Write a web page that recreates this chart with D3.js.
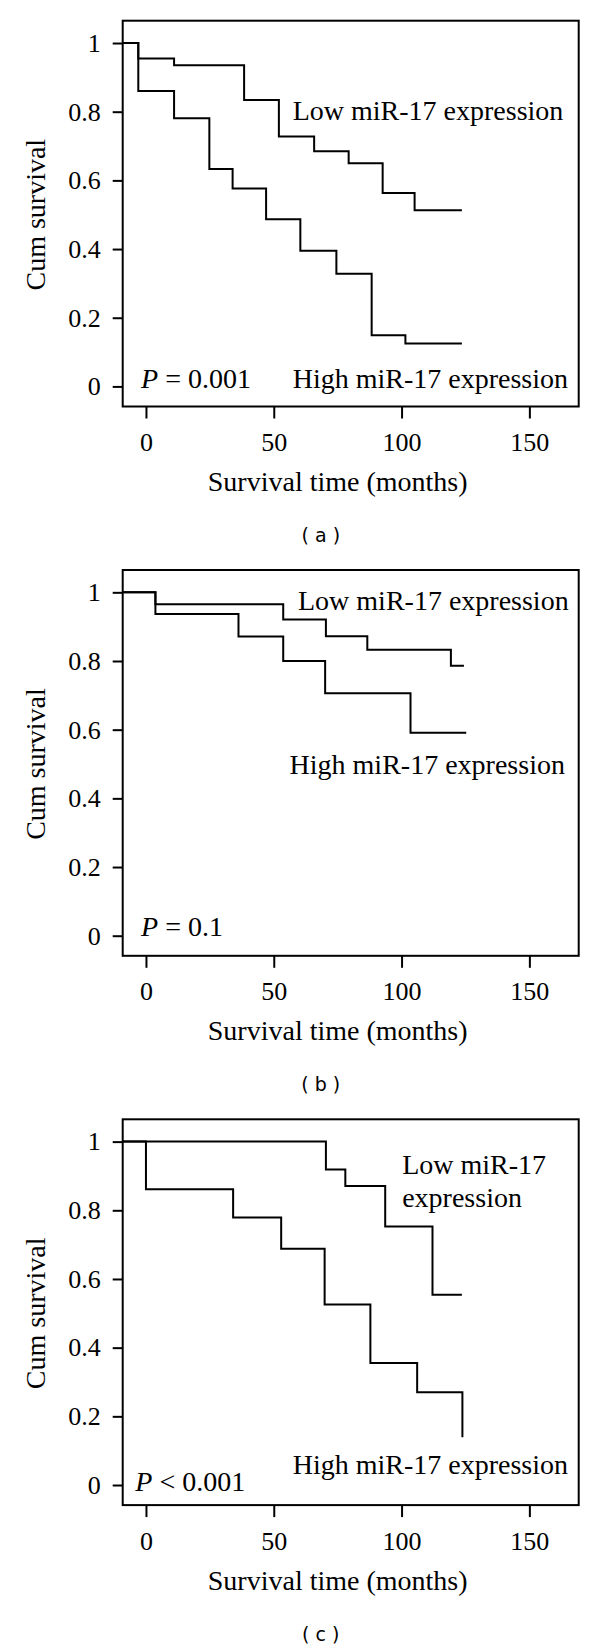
<!DOCTYPE html>
<html>
<head>
<meta charset="utf-8">
<script src="https://cdn.jsdelivr.net/npm/d3@7/dist/d3.min.js"></script>
<style>
  html, body { margin: 0; padding: 0; background: #fff; }
  svg { display: block; }
</style>
</head>
<body>
<svg id="chart" width="600" height="1647"></svg>
<script>
// ---------- data ----------
const xTicks = [0, 50, 100, 150];
const yTicks = [0, 0.2, 0.4, 0.6, 0.8, 1];
const yTickLabels = ["0", "0.2", "0.4", "0.6", "0.8", "1"];
const panelLabels = ["( a )", "( b )", "( c )"];
const pSymbols = ["=", "=", "<"];
const pValues = ["0.001", "0.1", "0.001"];
const xTitle = "Survival time (months)";
const yTitle = "Cum survival";

// panel (a)
const aLowTime  = [-3, 11.0, 38.4, 52.0, 65.8, 79.3, 92.6, 105.1];
const aLowSurv  = [0.955, 0.935, 0.834, 0.728, 0.685, 0.650, 0.563, 0.513];
const aLowEnd   = 123.6;
const aHighTime = [-3, 11.0, 24.8, 33.9, 47.0, 60.4, 74.5, 88.3, 101.5];
const aHighSurv = [0.860, 0.781, 0.633, 0.576, 0.487, 0.395, 0.328, 0.149, 0.125];
const aHighEnd  = 123.6;
// panel (b)
const bLowTime  = [3.7, 53.7, 70.4, 86.6, 119.3];
const bLowSurv  = [0.965, 0.921, 0.872, 0.833, 0.786];
const bLowEnd   = 124.4;
const bHighTime = [3.7, 36.2, 53.7, 70.1, 103.5];
const bHighSurv = [0.937, 0.871, 0.800, 0.706, 0.591];
const bHighEnd  = 125.3;
// panel (c)
const cLowTime  = [70.4, 78.0, 93.6, 112.1];
const cLowSurv  = [0.919, 0.871, 0.753, 0.554];
const cLowEnd   = 123.6;
const cHighTime = [0, 34.1, 52.9, 69.9, 87.8, 106.1, 123.8];
const cHighSurv = [0.861, 0.779, 0.688, 0.526, 0.355, 0.270, 0.139];
const cHighEnd  = 123.8;

const lowLabel = ["Low miR-17 expression"];
const lowLabelSplit = ["Low miR-17", "expression"];
const highLabel = "High miR-17 expression";

// ---------- layout ----------
const panelHeight = 549.3;
const serif = "'Liberation Serif', 'Times New Roman', serif";
const annSize = 28;
const tickSize = 26;

const panels = [
  { low: [aLowTime, aLowSurv, aLowEnd], high: [aHighTime, aHighSurv, aHighEnd],
    lowText: lowLabel, lowPos: [292.7, 119.5], highPos: [292.7, 387.5], pPos: [141.1, 387.5] },
  { low: [bLowTime, bLowSurv, bLowEnd], high: [bHighTime, bHighSurv, bHighEnd],
    lowText: lowLabel, lowPos: [298, 60.3], highPos: [289.6, 224.6], pPos: [141.1, 387.1] },
  { low: [cLowTime, cLowSurv, cLowEnd], high: [cHighTime, cHighSurv, cHighEnd],
    lowText: lowLabelSplit, lowPos: [402.2, 75.6], highPos: [292.7, 375.8], pPos: [135.3, 392.8] }
];

const x = d3.scaleLinear().domain([-9.1, 169.3]).range([122.7, 578.7]);
const y = d3.scaleLinear().domain([-0.0585, 1.065]).range([406.5, 20.7]);

const svg = d3.select("#chart");

function stepPoints(times, surv, end) {
  const pts = [[x.domain()[0], 1]];
  times.forEach((t, i) => pts.push([t, surv[i]]));
  pts.push([end, surv[surv.length - 1]]);
  return pts;
}

const line = d3.line()
  .x(d => x(d[0]))
  .y(d => y(d[1]))
  .curve(d3.curveStepAfter);

panels.forEach((p, i) => {
  const g = svg.append("g").attr("transform", `translate(0,${i * panelHeight})`);

  // frame
  g.append("rect")
    .attr("x", x.range()[0]).attr("y", y.range()[1])
    .attr("width", x.range()[1] - x.range()[0])
    .attr("height", y.range()[0] - y.range()[1])
    .attr("fill", "none").attr("stroke", "#000").attr("stroke-width", 2);

  // y axis
  const ya = g.append("g")
    .attr("transform", `translate(${x.range()[0]},0)`)
    .call(d3.axisLeft(y).tickValues(yTicks).tickSize(10).tickPadding(12)
      .tickFormat((d, k) => yTickLabels[k]));
  ya.attr("font-family", serif).attr("font-size", tickSize);
  ya.select(".domain").remove();
  ya.selectAll("line").attr("stroke", "#000").attr("stroke-width", 2);
  ya.selectAll("text").attr("font-family", serif).attr("font-size", tickSize).attr("fill", "#000");

  // x axis
  const xa = g.append("g")
    .attr("transform", `translate(0,${y.range()[0]})`)
    .call(d3.axisBottom(x).tickValues(xTicks).tickSize(12).tickPadding(14));
  xa.attr("font-family", serif).attr("font-size", tickSize);
  xa.select(".domain").remove();
  xa.selectAll("line").attr("stroke", "#000").attr("stroke-width", 2);
  xa.selectAll("text").attr("font-family", serif).attr("font-size", tickSize).attr("fill", "#000");

  // curves
  [p.low, p.high].forEach(s => {
    g.append("path")
      .attr("d", line(stepPoints(s[0], s[1], s[2])))
      .attr("fill", "none").attr("stroke", "#000").attr("stroke-width", 2);
  });

  // annotations
  const lt = g.append("text")
    .attr("x", p.lowPos[0]).attr("y", p.lowPos[1])
    .attr("font-family", serif).attr("font-size", annSize).attr("fill", "#000");
  p.lowText.forEach((t, k) => {
    lt.append("tspan").attr("x", p.lowPos[0]).attr("dy", k === 0 ? 0 : 33).text(t);
  });

  g.append("text")
    .attr("x", p.highPos[0]).attr("y", p.highPos[1])
    .attr("font-family", serif).attr("font-size", annSize).attr("fill", "#000")
    .text(highLabel);

  const pt = g.append("text")
    .attr("x", p.pPos[0]).attr("y", p.pPos[1])
    .attr("font-family", serif).attr("font-size", annSize).attr("fill", "#000")
    .attr("xml:space", "preserve");
  pt.append("tspan").attr("font-style", "italic").text("P");
  pt.append("tspan").text(" " + pSymbols[i] + " " + pValues[i]);

  // axis titles
  g.append("text")
    .attr("transform", `translate(45.4,${(y(0) + y(1)) / 2}) rotate(-90)`)
    .attr("text-anchor", "middle")
    .attr("font-family", serif).attr("font-size", annSize).attr("fill", "#000")
    .text(yTitle);

  g.append("text")
    .attr("x", (x(0) + x(150)) / 2).attr("y", 491)
    .attr("text-anchor", "middle")
    .attr("font-family", serif).attr("font-size", annSize).attr("fill", "#000")
    .text(xTitle);

  // panel label
  g.append("text")
    .attr("x", 320.8).attr("y", 542)
    .attr("text-anchor", "middle")
    .attr("font-family", "'DejaVu Sans', sans-serif").attr("font-size", 19).attr("fill", "#000")
    .attr("xml:space", "preserve")
    .text(panelLabels[i]);
});
</script>
</body>
</html>
